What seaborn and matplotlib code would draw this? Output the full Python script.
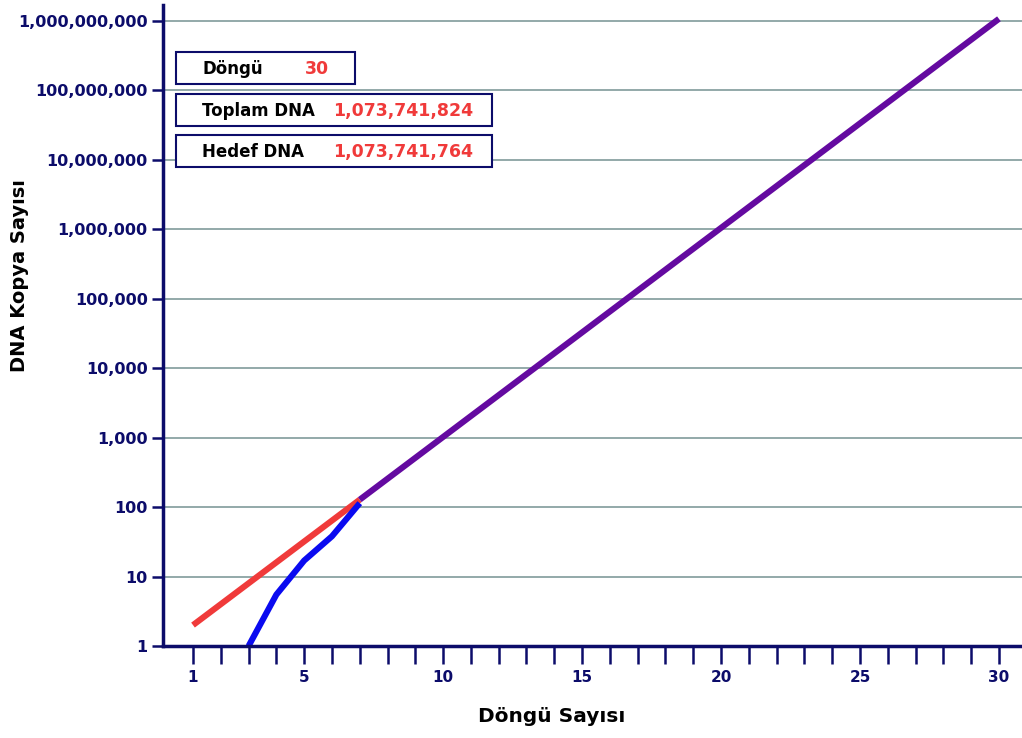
import numpy as np
import pandas as pd
import matplotlib
matplotlib.use("Agg")
import matplotlib.pyplot as plt
from matplotlib.patches import Rectangle
from matplotlib.ticker import FixedLocator, FuncFormatter
import seaborn as sns

# ---- data ----
cycles_total = [1, 2, 3, 4, 5, 6, 7]
total_dna = [2, 4, 8, 16, 32, 64, 128]
cycles_target = [3, 4, 5, 6, 7]
target_dna = [1, 5.5, 17, 38, 114]
cycles_both = list(range(7, 31))
both_dna = [128, 256, 512, 1024, 2048, 4096, 8192, 16384, 32768, 65536,
            131072, 262144, 524288, 1048576, 2097152, 4194304, 8388608,
            16777216, 33554432, 67108864, 134217728, 268435456, 536870912,
            1073741824]
y_ticks = [1, 10, 100, 1000, 10000, 100000, 1000000, 10000000, 100000000, 1000000000]
x_major = [1, 5, 10, 15, 20, 25, 30]
x_minor = list(range(1, 31))
info_labels = ["Döngü", "Toplam DNA", "Hedef DNA"]
info_values = ["30", "1,073,741,824", "1,073,741,764"]

NAVY = "#0c0c6a"
RED = "#f03a3a"
BLUE = "#0a0af0"
PURPLE = "#640aa0"
GRID = "#8aa3a3"

sns.set_style("white")
plt.rcParams["font.family"] = ["DejaVu Sans"]

fig = plt.figure(figsize=(10.22, 7.38), dpi=100)
W, H = 1022, 738
ax = fig.add_axes([163 / W, 1 - 646 / H, (W - 163) / W, (646 - 5) / H])
ax.set_facecolor("white")

sns.lineplot(x=cycles_total, y=total_dna, color=RED, linewidth=4.4, ax=ax,
             solid_capstyle="butt")
sns.lineplot(x=cycles_target, y=target_dna, color=BLUE, linewidth=4.4, ax=ax,
             solid_capstyle="butt")
sns.lineplot(x=cycles_both, y=both_dna, color=PURPLE, linewidth=4.4, ax=ax,
             solid_capstyle="butt")

ax.set_yscale("log")
ax.set_ylim(1, 10 ** 9.23)
ax.set_xlim(-0.08, 30.83)

ax.yaxis.set_major_locator(FixedLocator(y_ticks))
ax.yaxis.set_minor_locator(FixedLocator([]))
ax.yaxis.set_major_formatter(FuncFormatter(lambda v, p: f"{int(round(v)):,}"))
ax.xaxis.set_major_locator(FixedLocator(x_major))
ax.xaxis.set_minor_locator(FixedLocator([c for c in x_minor if c not in x_major]))

for v in y_ticks[1:]:
    ax.axhline(v, color=GRID, linewidth=1.3, zorder=0)

for s in ["top", "right"]:
    ax.spines[s].set_visible(False)
for s in ["left", "bottom"]:
    ax.spines[s].set_color(NAVY)
    ax.spines[s].set_linewidth(2.5)

ax.tick_params(axis="y", which="major", direction="out", length=8, width=1.8,
               color=NAVY, labelcolor=NAVY, labelsize=11.5, pad=3, left=True)
for lab in ax.get_yticklabels():
    lab.set_fontweight("bold")
ax.tick_params(axis="x", which="both", direction="out", length=13, width=1.8,
               color=NAVY, labelcolor=NAVY, labelsize=11, pad=4, bottom=True)
for lab in ax.get_xticklabels():
    lab.set_fontweight("bold")

ax.set_xlabel("")
ax.set_ylabel("")
fig.text(552 / W, 1 - 717 / H, "Döngü Sayısı", ha="center", va="center",
         fontsize=14.5, fontweight="bold", color="black")
fig.text(20 / W, 1 - 276 / H, "DNA Kopya Sayısı", ha="center", va="center",
         rotation=90, fontsize=14, fontweight="bold", color="black")

# info boxes
boxes = [(176, 52, 355, 84), (176, 94, 492, 126), (176, 135, 492, 167)]
value_x = [305, 333, 333]
for (x0, y0, x1, y1), lab, val, vx in zip(boxes, info_labels, info_values, value_x):
    fig.patches.append(Rectangle((x0 / W, 1 - y1 / H), (x1 - x0) / W, (y1 - y0) / H,
                                 transform=fig.transFigure, facecolor="white",
                                 edgecolor=NAVY, linewidth=1.5, zorder=5))
    yc = 1 - ((y0 + y1) / 2 + 1) / H
    fig.text(202 / W, yc, lab, ha="left", va="center", fontsize=12,
             fontweight="bold", color="black", zorder=6)
    fig.text(vx / W, yc, val, ha="left", va="center", fontsize=12.5,
             fontweight="bold", color=RED, zorder=6)

fig.savefig("out.png", dpi=100, facecolor="white")
